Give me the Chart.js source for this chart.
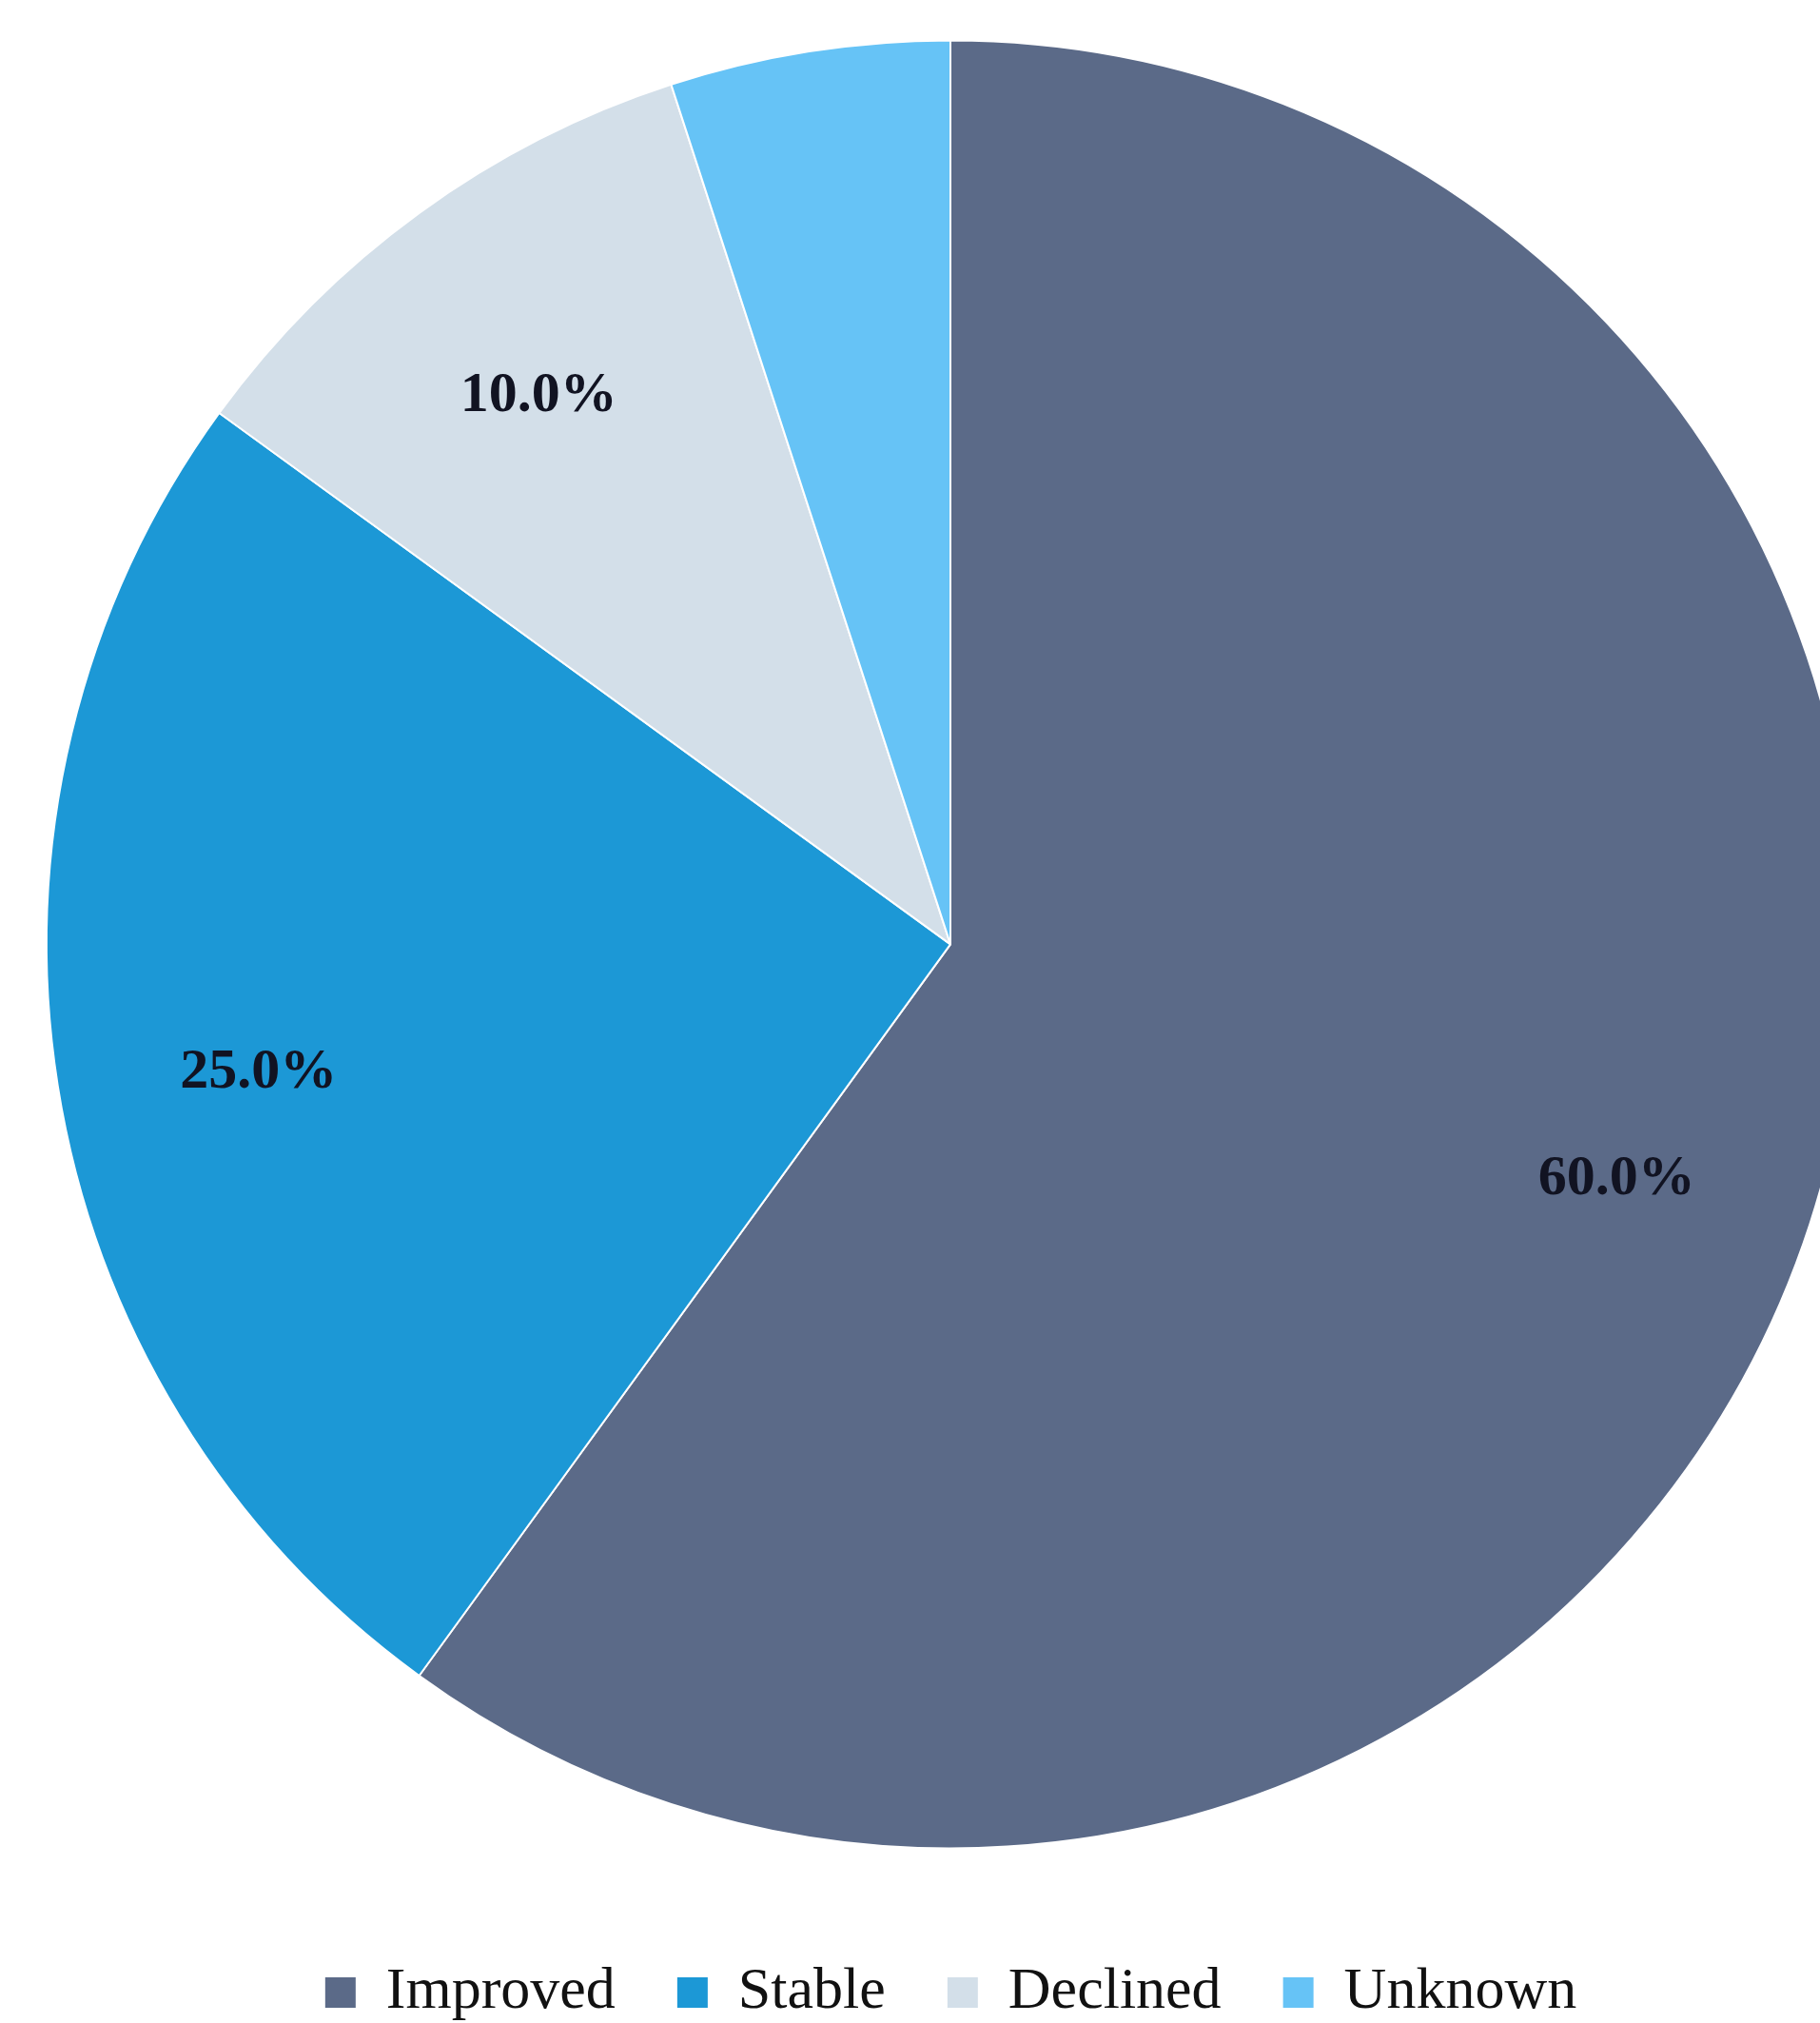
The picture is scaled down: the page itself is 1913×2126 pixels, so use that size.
<!DOCTYPE html>
<html>
<head>
<meta charset="utf-8">
<script src="https://cdn.jsdelivr.net/npm/chart.js@4.4.0/dist/chart.umd.min.js"></script>
<style>
  html, body { margin: 0; padding: 0; background: #ffffff; }
  #wrap { width: 1913px; height: 2126px; position: relative; }
</style>
</head>
<body>
<div id="wrap"><canvas id="outcomeChart"></canvas></div>
<script>
const categories = ['Improved', 'Stable', 'Declined', 'Unknown'];
const shares = [60, 25, 10, 5];
const sliceLabels = ['60.0%', '25.0%', '10.0%', ''];
const sliceColors = ['#5b6a88', '#1c98d6', '#d3dfe9', '#66c3f6'];

// percentage text drawn inside each slice at ~78% of the radius
const sliceLabelPlugin = {
  id: 'sliceLabels',
  afterDatasetsDraw(chart) {
    const { ctx } = chart;
    const meta = chart.getDatasetMeta(0);
    ctx.save();
    ctx.font = 'bold 60px "Liberation Serif", "Times New Roman", serif';
    ctx.fillStyle = '#111322';
    ctx.textAlign = 'center';
    ctx.textBaseline = 'alphabetic';
    meta.data.forEach((arc, i) => {
      const text = sliceLabels[i];
      if (!text) {
        return;
      }
      const { x, y, startAngle, endAngle, outerRadius } = arc.getProps(['x', 'y', 'startAngle', 'endAngle', 'outerRadius'], true);
      const mid = (startAngle + endAngle) / 2;
      const r = outerRadius * 0.775;
      ctx.fillText(text, x + Math.cos(mid) * r, y + Math.sin(mid) * r + 35);
    });
    ctx.restore();
  },
};

const canvas = document.getElementById('outcomeChart');
new Chart(canvas.getContext('2d'), {
  type: 'pie',
  data: {
    labels: categories,
    datasets: [{
      data: shares,
      backgroundColor: sliceColors,
      borderColor: '#ffffff',
      borderWidth: 2,
      radius: 950,
    }],
  },
  options: {
    responsive: true,
    maintainAspectRatio: false,
    animation: false,
    layout: {
      padding: { top: 0, left: 85, right: 0, bottom: -9 },
    },
    plugins: {
      legend: {
        display: true,
        position: 'bottom',
        // empty title only adds a little room above the legend row
        title: { display: true, text: '', padding: { top: 0, bottom: 13 }, font: { size: 1 } },
        labels: {
          color: '#111111',
          boxWidth: 34,
          boxHeight: 34,
          padding: 64,
          font: { family: '"Liberation Serif", "Times New Roman", serif', size: 62 },
        },
      },
      tooltip: { enabled: false },
    },
  },
  plugins: [sliceLabelPlugin],
});
</script>
</body>
</html>
